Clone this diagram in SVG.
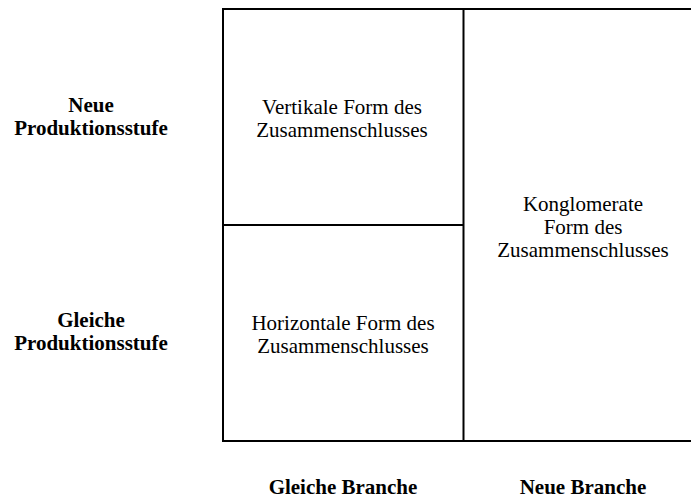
<svg xmlns="http://www.w3.org/2000/svg" width="691" height="498" viewBox="0 0 691 498">
<style>
.ln{stroke:#000;stroke-width:2;fill:none}
.t{font-family:"Liberation Serif","Times New Roman",serif;font-size:21px;fill:#000;text-anchor:middle}
.b{font-weight:bold}
</style>
<rect width="691" height="498" fill="#fff"/>
<g id="frame">
<path class="ln" d="M222,9H691M223,9V441M222,441H691M463.5,9V441M223,225H463.5"/>
</g>
<g id="vertikal">
<text class="t" x="342" y="114">Vertikale Form des</text>
<text class="t" x="342" y="137">Zusammenschlusses</text>
</g>
<g id="horizontal">
<text class="t" x="343" y="330">Horizontale Form des</text>
<text class="t" x="343" y="353">Zusammenschlusses</text>
</g>
<g id="konglomerat">
<text class="t" x="583" y="211">Konglomerate</text>
<text class="t" x="583" y="234">Form des</text>
<text class="t" x="583" y="257">Zusammenschlusses</text>
</g>
<g id="neue-stufe">
<text class="t b" x="91" y="112">Neue</text>
<text class="t b" x="91" y="135">Produktionsstufe</text>
</g>
<g id="gleiche-stufe">
<text class="t b" x="91" y="327">Gleiche</text>
<text class="t b" x="91" y="350">Produktionsstufe</text>
</g>
<g id="gleiche-branche">
<text class="t b" x="343" y="494">Gleiche Branche</text>
</g>
<g id="neue-branche">
<text class="t b" x="583" y="494">Neue Branche</text>
</g>
</svg>
